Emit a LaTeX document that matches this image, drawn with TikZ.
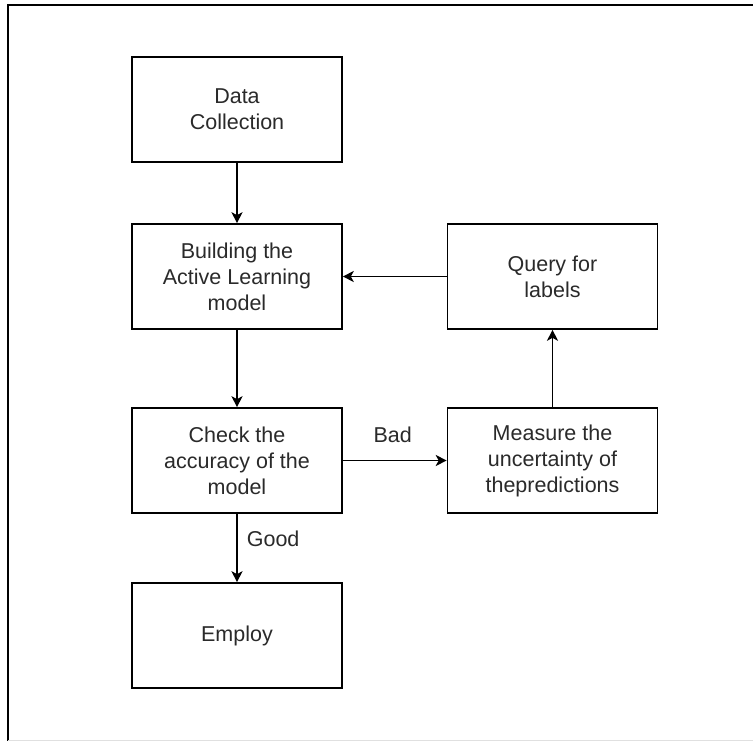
\documentclass[tikz,border=0pt]{standalone}
\usepackage{fontspec}
\setmainfont{Liberation Sans}
\usetikzlibrary{arrows.meta}
\definecolor{txt}{HTML}{2a2a2a}
\tikzset{
  box/.style={draw=black, line width=1.6pt, rectangle, minimum width=210pt, minimum height=105pt, align=center, text=txt, font=\fontsize{21.5}{26}\selectfont, inner sep=2pt},
  conn/.style={draw=black, line width=1.7pt, -{Stealth[length=11pt, width=11pt, inset=3pt]}},
  lbl/.style={text=txt, font=\fontsize{21.5}{26}\selectfont, inner sep=0pt}
}
\begin{document}
\begin{tikzpicture}[x=1pt, y=-1pt]
\useasboundingbox (0,0) rectangle (753,741);
\fill[white] (0,0) rectangle (753,741);
\draw[line width=2pt, black] (753,5) -- (8,5) -- (8,741);
\draw[line width=1pt, black!12] (8,740) -- (753,740);
\node[box] (data) at (237,109.5) {Data\\Collection};
\node[box] (build) at (237,276.5) {Building the\\Active Learning\\model};
\node[box] (check) at (237,460.5) {Check the\\accuracy of the\\model};
\node[box] (employ) at (237,635.5) {Employ};
\node[box] (query) at (552.5,276.5) {Query for\\labels};
\node[box] (measure) at (552.5,460.5) {Measure the\\uncertainty of\\thepredictions};
\draw[conn] (data.south) -- (build.north);
\draw[conn] (build.south) -- (check.north);
\draw[conn] (check.south) -- node[lbl, pos=0.36, right=9pt] (good) {Good} (employ.north);
\draw[conn] (check.east) -- node[lbl, above=17pt, pos=0.48] (bad) {Bad} (measure.west);
\draw[conn] (measure.north) -- (query.south);
\draw[conn] (query.west) -- (build.east);
\end{tikzpicture}
\end{document}
